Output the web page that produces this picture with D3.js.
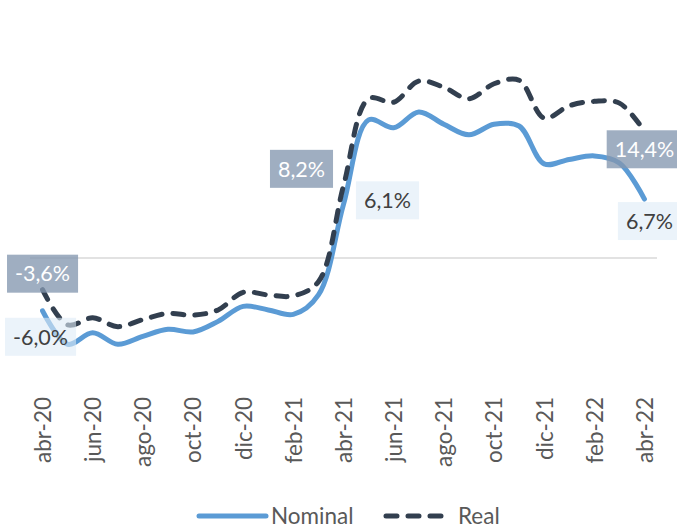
<!DOCTYPE html>
<html>
<head>
<meta charset="utf-8">
<script src="https://cdn.jsdelivr.net/npm/d3@7.9.0/dist/d3.min.js"></script>
<style>
  body { margin: 0; background: #fff; }
  svg { display: block; font-family: Lato, "Open Sans", sans-serif; }
</style>
</head>
<body>
<svg id="chart" width="677" height="529"></svg>
<script>
// months, abr-20 .. abr-22
const months = ['abr-20','may-20','jun-20','jul-20','ago-20','sep-20','oct-20','nov-20','dic-20',
  'ene-21','feb-21','mar-21','abr-21','may-21','jun-21','jul-21','ago-21','sep-21','oct-21',
  'nov-21','dic-21','ene-22','feb-22','mar-22','abr-22'];
const tickLabels = months.filter((d, i) => i % 2 === 0);

const nominal = [-6.0, -9.8, -8.5, -9.8, -8.9, -8.1, -8.4, -7.2, -5.5, -5.9, -6.4, -4.2,
  6.1, 15.7, 14.8, 16.6, 15.2, 14.0, 15.2, 15.0, 10.7, 11.2, 11.6, 10.8, 6.7];
const real = [-3.6, -7.6, -6.8, -7.8, -7.0, -6.3, -6.5, -5.9, -3.9, -4.2, -4.3, -2.7,
  8.2, 18.1, 17.7, 20.1, 19.4, 18.1, 19.8, 20.2, 15.9, 17.3, 17.8, 17.6, 14.4];

const seriesNames = ['Nominal', 'Real'];
const labelMonths = ['abr-20', 'abr-21', 'abr-22'];

const svg = d3.select('#chart');

let x = d3.scalePoint().domain(months).range([30, 657]).padding(0.5);
let y = d3.scaleLinear().domain([-15, 25]).range([390, 38]);

// zero line
svg.append('line')
  .attr('x1', 30).attr('x2', 657)
  .attr('y1', y(0)).attr('y2', y(0))
  .attr('stroke', '#d9d9d9')
  .attr('stroke-width', 1.5);

// x axis, labels only
let xAxis = svg.append('g')
  .attr('transform', `translate(0,390)`)
  .call(d3.axisBottom(x).tickValues(tickLabels).tickSize(0));
xAxis.select('.domain').remove();
xAxis.selectAll('text')
  .attr('transform', 'rotate(-90)')
  .attr('text-anchor', 'end')
  .attr('x', -7)
  .attr('y', 0)
  .attr('dy', '0.35em')
  .attr('fill', '#595959')
  .style('font-size', '22.5px')
  .style('font-family', 'Lato, sans-serif');

let line = d3.line()
  .x((d, i) => x(months[i]))
  .y(d => y(d))
  .curve(d3.curveCatmullRom.alpha(0.5));

svg.append('path')
  .attr('d', line(nominal))
  .attr('fill', 'none')
  .attr('stroke', '#5b9bd5')
  .attr('stroke-width', 5)
  .attr('stroke-linecap', 'round');

svg.append('path')
  .attr('d', line(real))
  .attr('fill', 'none')
  .attr('stroke', '#323f4f')
  .attr('stroke-width', 5)
  .attr('stroke-linecap', 'round')
  .attr('stroke-dasharray', '11 11');

// data labels
const fmt = v => d3.format('.1f')(v).replace('.', ',').replace('−', '-') + '%';

const placement = {
  Real: { 'abr-20': [0, -16], 'abr-21': [-42, -17], 'abr-22': [0, 18] },
  Nominal: { 'abr-20': [-2, 26], 'abr-21': [44, -4], 'abr-22': [5, 22] }
};

function addLabel(name, values, fill, opacity, color) {
  labelMonths.forEach(m => {
    let i = months.indexOf(m);
    let [dx, dy] = placement[name][m];
    let cx = x(m) + dx;
    let cy = y(values[i]) + dy;
    let g = svg.append('g');
    let rect = g.append('rect');
    let t = g.append('text')
      .attr('x', cx).attr('y', cy)
      .attr('text-anchor', 'middle')
      .attr('dy', '0.36em')
      .attr('fill', color)
      .style('font-size', '21.5px')
      .text(fmt(values[i]));
    let w = t.node().getComputedTextLength() + 16;
    rect.attr('x', cx - w / 2).attr('y', cy - 19)
      .attr('width', w).attr('height', 38)
      .attr('fill', fill).attr('fill-opacity', opacity);
  });
}

addLabel('Real', real, '#8497b0', 0.78, '#ffffff');
addLabel('Nominal', nominal, '#deebf7', 0.6, '#404040');

// legend
let legend = svg.append('g').attr('transform', 'translate(0,516)');
legend.append('line')
  .attr('x1', 199).attr('x2', 266).attr('y1', 0).attr('y2', 0)
  .attr('stroke', '#5b9bd5').attr('stroke-width', 5).attr('stroke-linecap', 'round');
legend.append('text')
  .attr('x', 271).attr('y', 0).attr('dy', '0.36em')
  .attr('fill', '#595959').style('font-size', '22.5px')
  .text(seriesNames[0]);
legend.append('line')
  .attr('x1', 386).attr('x2', 450).attr('y1', 0).attr('y2', 0)
  .attr('stroke', '#323f4f').attr('stroke-width', 5).attr('stroke-linecap', 'round')
  .attr('stroke-dasharray', '11 11');
legend.append('text')
  .attr('x', 458).attr('y', 0).attr('dy', '0.36em')
  .attr('fill', '#595959').style('font-size', '22.5px')
  .text(seriesNames[1]);
</script>
</body>
</html>
